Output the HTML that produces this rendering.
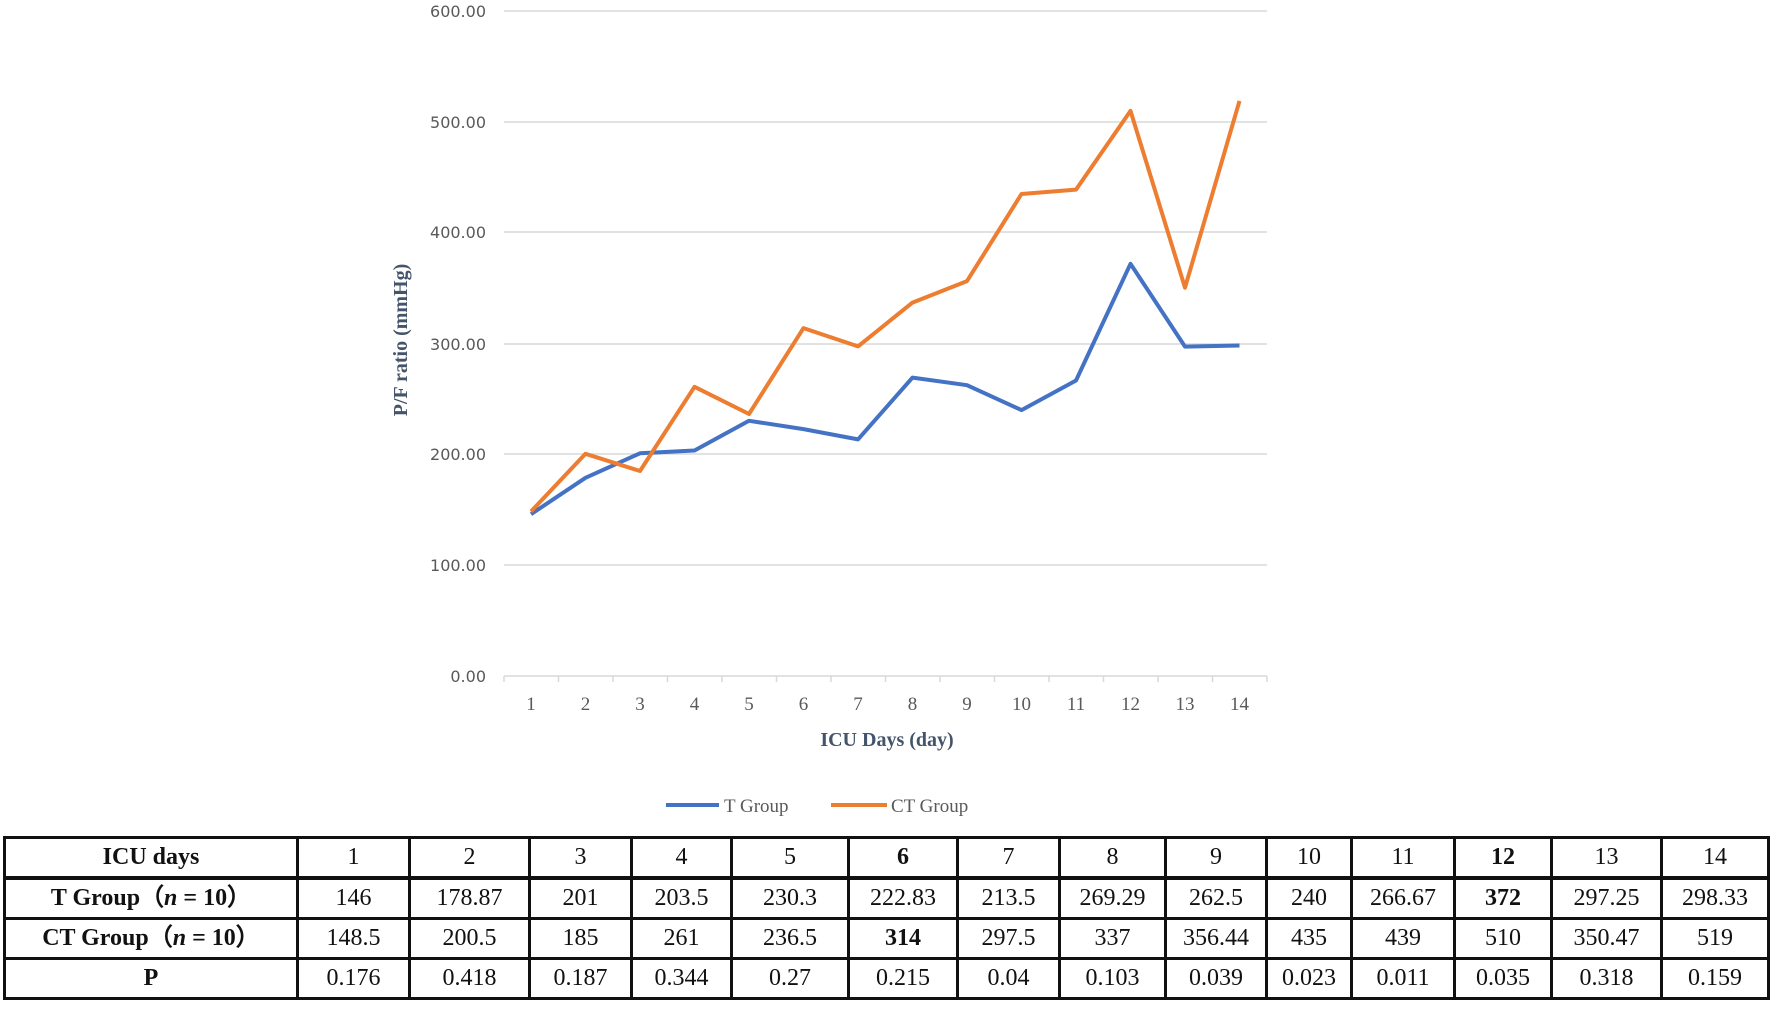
<!DOCTYPE html>
<html><head><meta charset="utf-8"><style>
html,body{margin:0;padding:0;background:#fff;width:1772px;height:1011px;overflow:hidden}
table{position:absolute;left:3px;top:836px;border-collapse:collapse;font-family:"Liberation Serif",serif;font-size:24px;color:#111;table-layout:fixed}
td{border:3px solid #111;text-align:center;padding:0;height:37px;line-height:37px;white-space:nowrap}
tr:first-child td{border-bottom-width:4px}
b{font-weight:bold}
</style></head><body>
<svg width="1772" height="830" style="position:absolute;left:0;top:0" xmlns="http://www.w3.org/2000/svg">
<g stroke="#d9d9d9" stroke-width="1.5">
<line x1="504" x2="1267" y1="11" y2="11"/><line x1="504" x2="1267" y1="122" y2="122"/>
<line x1="504" x2="1267" y1="232" y2="232"/><line x1="504" x2="1267" y1="344" y2="344"/>
<line x1="504" x2="1267" y1="454" y2="454"/><line x1="504" x2="1267" y1="565" y2="565"/>
<line x1="504" x2="1267" y1="676" y2="676"/>
</g>
<g stroke="#d9d9d9" stroke-width="1.5">
<line x1="504" x2="504" y1="676" y2="682"/><line x1="558.5" x2="558.5" y1="676" y2="682"/><line x1="613" x2="613" y1="676" y2="682"/><line x1="667.5" x2="667.5" y1="676" y2="682"/><line x1="722" x2="722" y1="676" y2="682"/><line x1="776.5" x2="776.5" y1="676" y2="682"/><line x1="831" x2="831" y1="676" y2="682"/><line x1="885.5" x2="885.5" y1="676" y2="682"/><line x1="940" x2="940" y1="676" y2="682"/><line x1="994.5" x2="994.5" y1="676" y2="682"/><line x1="1049" x2="1049" y1="676" y2="682"/><line x1="1103.5" x2="1103.5" y1="676" y2="682"/><line x1="1158" x2="1158" y1="676" y2="682"/><line x1="1212.5" x2="1212.5" y1="676" y2="682"/><line x1="1267" x2="1267" y1="676" y2="682"/>
</g>
<g font-family="DejaVu Sans,sans-serif" font-size="16" fill="#595959" text-anchor="end">
<text x="486" y="17">600.00</text><text x="486" y="128">500.00</text><text x="486" y="238">400.00</text><text x="486" y="350">300.00</text><text x="486" y="460">200.00</text><text x="486" y="571">100.00</text><text x="486" y="682">0.00</text>
</g>
<g font-family="Liberation Serif,serif" font-size="19" fill="#595959" text-anchor="middle">
<text x="531" y="710">1</text><text x="585.5" y="710">2</text><text x="640" y="710">3</text><text x="694.5" y="710">4</text><text x="749" y="710">5</text><text x="803.5" y="710">6</text><text x="858" y="710">7</text><text x="912.5" y="710">8</text><text x="967" y="710">9</text><text x="1021.5" y="710">10</text><text x="1076" y="710">11</text><text x="1130.5" y="710">12</text><text x="1185" y="710">13</text><text x="1239.5" y="710">14</text>
</g>
<text x="887" y="746" font-family="Liberation Serif,serif" font-size="20" font-weight="bold" fill="#44546a" text-anchor="middle">ICU Days (day)</text>
<text transform="translate(407,340) rotate(-90)" font-family="Liberation Serif,serif" font-size="20" font-weight="bold" fill="#44546a" text-anchor="middle">P/F ratio (mmHg)</text>
<polyline fill="none" stroke="#4472c4" stroke-width="4" stroke-linejoin="round" points="531,514.2 585.5,477.8 640,453.3 694.5,450.5 749,420.8 803.5,429.1 858,439.4 912.5,377.6 967,385.2 1021.5,410.1 1076,380.5 1130.5,263.8 1185,346.6 1239.5,345.5"/>
<polyline fill="none" stroke="#ed7d31" stroke-width="4" stroke-linejoin="round" points="531,511.5 585.5,453.8 640,471 694.5,386.8 749,414 803.5,328.1 858,346.4 912.5,302.6 967,281.1 1021.5,194 1076,189.6 1130.5,110.9 1185,287.7 1239.5,100.9"/>
<line x1="666" x2="719" y1="805" y2="805" stroke="#4472c4" stroke-width="4"/>
<text x="724" y="812" font-family="Liberation Serif,serif" font-size="19" fill="#595959">T Group</text>
<line x1="831" x2="887" y1="805" y2="805" stroke="#ed7d31" stroke-width="4"/>
<text x="891" y="812" font-family="Liberation Serif,serif" font-size="19" fill="#595959">CT Group</text>
</svg>
<table>
<colgroup><col style="width:293px"><col style="width:112px"><col style="width:120px"><col style="width:102px"><col style="width:100px"><col style="width:117px"><col style="width:109px"><col style="width:102px"><col style="width:106px"><col style="width:101px"><col style="width:85px"><col style="width:103px"><col style="width:97px"><col style="width:110px"><col style="width:107px"></colgroup>
<tr><td><b>ICU days</b></td><td>1</td><td>2</td><td>3</td><td>4</td><td>5</td><td><b>6</b></td><td>7</td><td>8</td><td>9</td><td>10</td><td>11</td><td><b>12</b></td><td>13</td><td>14</td></tr>
<tr><td><b>T Group（<i>n</i> = 10）</b></td><td>146</td><td>178.87</td><td>201</td><td>203.5</td><td>230.3</td><td>222.83</td><td>213.5</td><td>269.29</td><td>262.5</td><td>240</td><td>266.67</td><td><b>372</b></td><td>297.25</td><td>298.33</td></tr>
<tr><td><b>CT Group（<i>n</i> = 10）</b></td><td>148.5</td><td>200.5</td><td>185</td><td>261</td><td>236.5</td><td><b>314</b></td><td>297.5</td><td>337</td><td>356.44</td><td>435</td><td>439</td><td>510</td><td>350.47</td><td>519</td></tr>
<tr><td><b>P</b></td><td>0.176</td><td>0.418</td><td>0.187</td><td>0.344</td><td>0.27</td><td>0.215</td><td>0.04</td><td>0.103</td><td>0.039</td><td>0.023</td><td>0.011</td><td>0.035</td><td>0.318</td><td>0.159</td></tr>
</table>
</body></html>
